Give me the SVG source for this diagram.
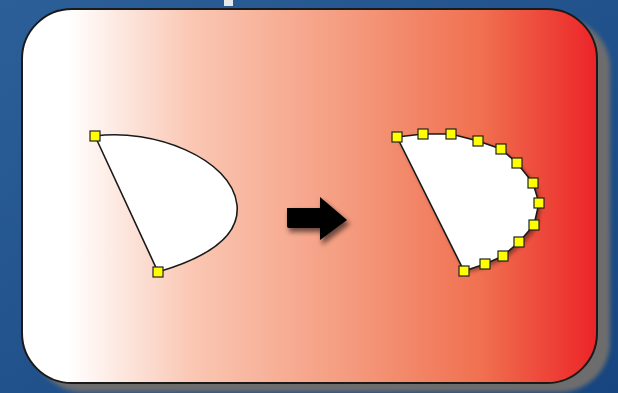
<svg xmlns="http://www.w3.org/2000/svg" width="618" height="393" viewBox="0 0 618 393">
<defs>
<linearGradient id="bg" x1="0" y1="0" x2="1" y2="1">
<stop offset="0" stop-color="#2c5f98"/>
<stop offset="1" stop-color="#17457f"/>
</linearGradient>
<linearGradient id="panel" x1="22" y1="0" x2="597" y2="0" gradientUnits="userSpaceOnUse">
<stop offset="0" stop-color="#ffffff"/>
<stop offset="0.08" stop-color="#ffffff"/>
<stop offset="0.3" stop-color="#fac6b2"/>
<stop offset="0.55" stop-color="#f59e82"/>
<stop offset="0.8" stop-color="#f0704f"/>
<stop offset="1" stop-color="#ec2428"/>
</linearGradient>
<filter id="blur" x="-10%" y="-10%" width="120%" height="120%"><feGaussianBlur stdDeviation="2"/></filter>
<filter id="ablur" x="-30%" y="-30%" width="160%" height="160%"><feGaussianBlur stdDeviation="2.5"/></filter>
<style>
.pt{fill:#ffff00;stroke:#222;stroke-width:1.2}
.shape{fill:#ffffff;stroke:#1a1a1a;stroke-width:1.6}
</style>
<rect id="sq" class="pt" x="-5" y="-5" width="10" height="10"/>
</defs>
<rect width="618" height="393" fill="url(#bg)"/>
<rect x="224" y="0" width="9" height="6" fill="#e8e8e8"/>
<g id="panel-group">
<rect x="33" y="18" width="577" height="374" rx="50" fill="#6d6d6d" filter="url(#blur)"/>
<rect x="22" y="9" width="575" height="374" rx="50" fill="url(#panel)" stroke="#1a1a1a" stroke-width="2"/>
</g>
<g id="left-shape">
<path class="shape" d="M95,136 C152,128 232,158 237,205 C241,243 192,262 158,272 Z"/>
<use href="#sq" x="95" y="136"/>
<use href="#sq" x="158" y="272"/>
</g>
<g id="arrow">
<path d="M289,211 H322 V200 L350,224 L322,245 V232 H289 Z" fill="#000" opacity="0.55" filter="url(#ablur)"/>
<path d="M287,208 H320 V197 L347,220 L320,240 V228 H289 Q287,228 287,226 Z" fill="#000"/>
</g>
<g id="right-shape">
<path d="M399,139 L425,136 L453,136 L481,143 L503,151 L519,165 L536,185 L541,206 L537,228 L522,245 L505,259 L487,267 L466,273 Z" fill="#000" opacity="0.4" filter="url(#blur)"/>
<polygon class="shape" points="397,137 423,134 451,134 478,141 501,149 517,163 533,183 539,203 534,225 519,242 503,256 485,264 464,271"/>
<use href="#sq" x="397" y="137"/>
<use href="#sq" x="423" y="134"/>
<use href="#sq" x="451" y="134"/>
<use href="#sq" x="478" y="141"/>
<use href="#sq" x="501" y="149"/>
<use href="#sq" x="517" y="163"/>
<use href="#sq" x="533" y="183"/>
<use href="#sq" x="539" y="203"/>
<use href="#sq" x="534" y="225"/>
<use href="#sq" x="519" y="242"/>
<use href="#sq" x="503" y="256"/>
<use href="#sq" x="485" y="264"/>
<use href="#sq" x="464" y="271"/>
</g>
<g id="connectors"/>
</svg>
